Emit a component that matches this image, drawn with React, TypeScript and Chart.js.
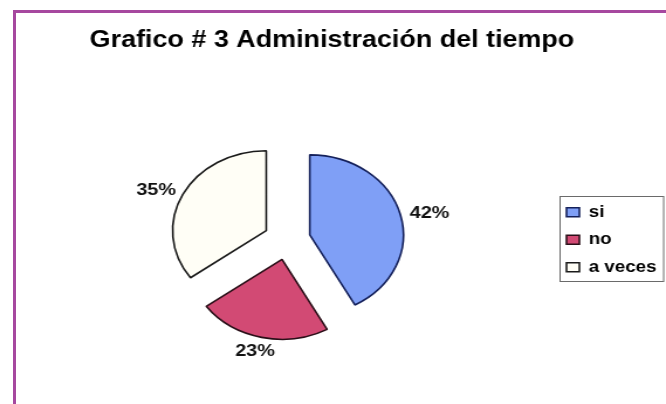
import React, { useEffect, useRef } from "react";
import { Chart, registerables } from "chart.js";

Chart.register(...registerables);

const TITLE = "Grafico # 3 Administración del tiempo";
const categories = ["si", "no", "a veces"];
const percentValues = [42, 23, 35];
const fillColors = ["#7f9ff6", "#d24a74", "#fffef6"];
const edgeColors = ["#14205a", "#2a0f18", "#1a1a1a"];

const FONT = "'Liberation Sans', Arial, sans-serif";
const CANVAS_W = 569;
const CANVAS_H = 404;
const STRETCH = 666 / CANVAS_W;
const EXPLODE = 20;
const LABEL_GAP = 4.5;

// draws each slice (library arc element) pushed out along its middle angle
const explodePlugin = {
  id: "explode",
  beforeDatasetDraw(chart: any, args: any) {
    const ctx = chart.ctx;
    args.meta.data.forEach((arc: any) => {
      const mid = (arc.startAngle + arc.endAngle) / 2;
      ctx.save();
      ctx.translate(Math.cos(mid) * EXPLODE, Math.sin(mid) * EXPLODE);
      arc.draw(ctx, chart.chartArea);
      ctx.restore();
    });
    return false;
  },
};

const sliceLabelPlugin = {
  id: "sliceLabels",
  afterDatasetsDraw(chart: any) {
    const meta = chart.getDatasetMeta(0);
    const ctx = chart.ctx;
    const ds = chart.data.datasets[0];
    ctx.save();
    ctx.font = `bold 17px ${FONT}`;
    ctx.fillStyle = "#111";
    ctx.textAlign = "center";
    ctx.textBaseline = "middle";
    meta.data.forEach((arc: any, i: number) => {
      const text = `${ds.data[i]}%`;
      const w = ctx.measureText(text).width;
      const h = 17;
      const mid = (arc.startAngle + arc.endAngle) / 2;
      const r = arc.outerRadius + EXPLODE + LABEL_GAP;
      const cx = arc.x + Math.cos(mid) * r + Math.cos(mid) * w * 0.62;
      const cy = arc.y + Math.sin(mid) * r + (Math.sin(mid) * h) / 2 + 1.5;
      ctx.fillText(text, cx, cy);
    });
    ctx.restore();
  },
};

// lets the legend text run past the narrowed legend box instead of being clipped
const legendWidenPlugin = {
  id: "legendWiden",
  afterLayout(chart: any) {
    const lg = chart.legend;
    if (!lg) return;
    lg.right = chart.width;
    lg.width = lg.right - lg.left;
  },
};

const legendFramePlugin = {
  id: "legendFrame",
  afterDraw(chart: any) {
    const lg = chart.legend;
    if (!lg || !lg.legendHitBoxes || !lg.legendHitBoxes.length) return;
    const boxes = lg.legendHitBoxes;
    const first = boxes[0];
    const last = boxes[boxes.length - 1];
    const ctx = chart.ctx;
    ctx.save();
    ctx.strokeStyle = "#6a6a6a";
    ctx.lineWidth = 1;
    const left = first.left - 6;
    const top = first.top - 8.5;
    const right = chart.width - 2.5;
    const bottom = last.top + last.height + 5.5;
    ctx.strokeRect(Math.round(left) + 0.5, Math.round(top) + 0.5, right - left, bottom - top);
    ctx.restore();
  },
};

export default function App() {
  const ref = useRef<HTMLCanvasElement | null>(null);

  useEffect(() => {
    if (!ref.current) return;
    const chart = new Chart(ref.current, {
      type: "pie",
      data: {
        labels: categories,
        datasets: [
          {
            data: percentValues,
            backgroundColor: fillColors,
            borderColor: edgeColors,
            borderWidth: 1.6,
          },
        ],
      },
      options: {
        responsive: false,
        animation: false,
        radius: 80,
        layout: { padding: { left: 18.1, right: 19.9, top: 0, bottom: 0 } },
        plugins: {
          title: {
            display: true,
            text: TITLE,
            color: "#000",
            font: { family: FONT, size: 23, weight: "bold" },
            padding: { top: 27, bottom: 21 },
          },
          legend: {
            position: "right",
            fullSize: false,
            maxWidth: 76.6,
            labels: {
              color: "#000",
              font: { family: FONT, size: 16, weight: "bold" },
              boxWidth: 11,
              boxHeight: 9,
              padding: 11.5,
            },
          },
          tooltip: { enabled: false },
        },
      } as any,
      plugins: [explodePlugin, sliceLabelPlugin, legendWidenPlugin, legendFramePlugin],
    });
    return () => chart.destroy();
  }, []);

  return (
    <div
      style={{
        position: "absolute",
        left: 0,
        top: 0,
        width: 666,
        height: 404,
        overflow: "hidden",
        background: "#fff",
      }}
    >
      <canvas
        ref={ref}
        width={CANVAS_W}
        height={CANVAS_H}
        style={{
          position: "absolute",
          left: 0,
          top: 0,
          transform: `scaleX(${STRETCH})`,
          transformOrigin: "0 0",
        }}
      />
      <div style={{ position: "absolute", left: 13, top: 10, width: 3, height: 394, background: "#a6489f" }} />
      <div style={{ position: "absolute", left: 13, top: 10, width: 653, height: 3, background: "#a6489f" }} />
    </div>
  );
}
